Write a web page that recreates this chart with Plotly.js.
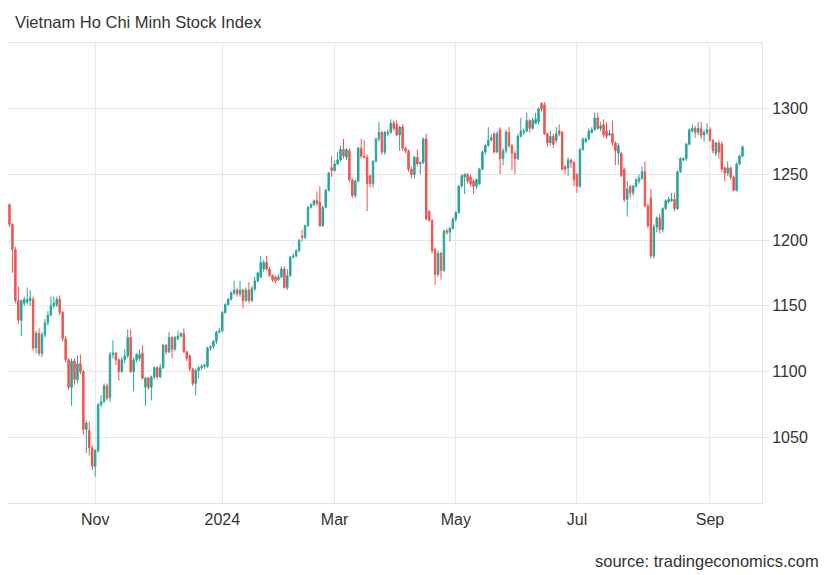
<!DOCTYPE html>
<html>
<head>
<meta charset="utf-8">
<script src="https://cdn.plot.ly/plotly-3.0.1.min.js"></script>
<style>html,body{margin:0;padding:0;background:#fff;}#chart{width:830px;height:575px;}</style>
</head>
<body>
<div id="chart"></div>
<script>
// Daily OHLC of the VN-Index, trading days Sep 2023 - Sep 2024
const openV = [
1227,1212,1193,1154,1139,1152,1153,1154,1155,1118,1129,1114,1128,1137,1143,1150,1151,1155,1145,1125,
1109,1088,1108,1094,1106,1100,1056,1055,1042,1028,1040,1075,1077,1089,1080,1113,1114,1109,1100,1109,
1112,1126,1100,1109,1110,1114,1088,1095,1088,1096,1103,1096,1103,1120,1115,1126,1117,1125,1127,1129,
1115,1112,1102,1091,1101,1103,1104,1104,1118,1119,1123,1130,1131,1145,1151,1155,1160,1162,1159,1162,
1154,1162,1154,1163,1169,1172,1178,1183,1178,1173,1172,1170,1172,1178,1164,1173,1187,1188,1192,1203,
1202,1211,1225,1227,1230,1229,1211,1225,1238,1255,1253,1258,1261,1269,1263,1268,1246,1234,1245,1270,
1264,1263,1249,1243,1260,1277,1282,1267,1281,1282,1289,1288,1280,1286,1270,1268,1254,1250,1263,1258,
1259,1277,1222,1215,1193,1174,1190,1177,1207,1206,1209,1216,1221,1241,1248,1250,1248,1245,1241,1243,
1254,1267,1272,1276,1281,1267,1284,1262,1268,1282,1272,1266,1262,1279,1282,1283,1291,1285,1289,1290,
1304,1303,1281,1274,1279,1276,1283,1282,1256,1255,1261,1259,1250,1241,1269,1275,1277,1282,1284,1293,
1285,1288,1283,1280,1281,1274,1266,1266,1254,1231,1241,1236,1241,1245,1247,1252,1226,1232,1188,1210,
1217,1208,1224,1229,1230,1231,1224,1252,1261,1262,1273,1283,1285,1282,1285,1280,1282,1284,1276,1266,
1274,1273,1255,1251,1255,1248,1238,1258,1264];
const highV = [
1228,1213,1195,1165,1155,1157,1164,1162,1157,1131,1133,1130,1140,1146,1157,1157,1157,1158,1146,1127,
1110,1110,1110,1112,1113,1101,1063,1062,1044,1041,1076,1082,1091,1091,1115,1124,1115,1110,1111,1117,
1132,1132,1111,1114,1117,1120,1096,1096,1097,1104,1104,1106,1121,1121,1130,1127,1127,1131,1130,1133,
1116,1113,1103,1102,1104,1106,1106,1119,1120,1124,1131,1133,1146,1152,1156,1161,1169,1164,1169,1163,
1164,1168,1165,1172,1176,1188,1185,1188,1180,1174,1173,1174,1180,1180,1178,1188,1190,1193,1201,1208,
1212,1226,1228,1231,1237,1241,1226,1239,1252,1264,1260,1267,1272,1277,1270,1270,1247,1246,1271,1277,
1276,1265,1250,1261,1278,1290,1283,1283,1284,1292,1291,1291,1287,1288,1271,1269,1256,1264,1269,1260,
1278,1281,1223,1216,1194,1192,1191,1208,1209,1210,1217,1222,1242,1250,1251,1251,1250,1246,1247,1255,
1268,1273,1286,1281,1282,1283,1286,1270,1284,1286,1273,1268,1281,1293,1285,1297,1292,1293,1297,1301,
1305,1305,1282,1283,1281,1286,1288,1283,1257,1263,1262,1260,1251,1270,1278,1278,1285,1286,1297,1297,
1290,1292,1290,1284,1291,1275,1274,1267,1255,1245,1242,1242,1247,1250,1256,1260,1228,1239,1212,1218,
1220,1225,1231,1233,1236,1236,1253,1263,1263,1274,1285,1288,1287,1290,1290,1284,1289,1286,1277,1275,
1276,1275,1256,1260,1256,1249,1259,1265,1272];
const lowV = [
1210,1175,1152,1136,1127,1150,1151,1150,1116,1114,1112,1111,1126,1135,1142,1148,1149,1143,1123,1107,
1086,1074,1090,1091,1098,1052,1038,1036,1025,1020,1038,1073,1076,1078,1077,1110,1105,1093,1099,1106,
1110,1099,1085,1107,1108,1094,1074,1086,1078,1094,1094,1095,1102,1113,1114,1110,1116,1124,1126,1114,
1108,1100,1089,1082,1095,1101,1102,1103,1116,1117,1121,1129,1130,1144,1150,1154,1158,1157,1157,1148,
1153,1152,1153,1161,1168,1171,1176,1177,1172,1168,1167,1169,1171,1163,1162,1172,1186,1187,1191,1199,
1201,1210,1224,1226,1226,1210,1210,1224,1237,1248,1252,1257,1260,1262,1261,1244,1232,1232,1244,1262,
1262,1222,1240,1240,1259,1275,1265,1265,1279,1281,1283,1279,1268,1268,1266,1252,1247,1247,1256,1250,
1258,1215,1214,1190,1166,1172,1170,1176,1204,1199,1208,1214,1220,1240,1235,1243,1241,1235,1239,1242,
1253,1265,1271,1275,1266,1266,1250,1257,1266,1270,1253,1250,1261,1278,1280,1282,1282,1284,1288,1288,
1298,1280,1271,1272,1270,1274,1279,1253,1250,1249,1255,1241,1236,1240,1268,1274,1276,1281,1283,1284,
1283,1278,1277,1279,1272,1257,1257,1248,1229,1218,1232,1234,1240,1243,1246,1225,1209,1186,1186,1206,
1205,1206,1223,1228,1229,1222,1223,1251,1260,1260,1272,1282,1278,1280,1277,1275,1280,1275,1266,1264,
1262,1252,1245,1249,1246,1237,1237,1257,1263];
const closeV = [
1212,1193,1154,1139,1154,1155,1155,1156,1118,1129,1114,1128,1137,1143,1150,1152,1155,1145,1125,1109,
1088,1108,1094,1106,1100,1056,1061,1042,1028,1040,1075,1077,1089,1080,1113,1114,1109,1100,1109,1112,
1126,1100,1109,1113,1113,1095,1095,1088,1096,1103,1096,1103,1120,1115,1126,1117,1126,1127,1129,1115,
1110,1102,1091,1101,1103,1104,1105,1118,1119,1123,1130,1131,1145,1151,1155,1160,1162,1159,1162,1154,
1162,1154,1163,1169,1175,1183,1183,1178,1173,1170,1169,1172,1178,1164,1173,1187,1188,1192,1200,1202,
1211,1225,1227,1230,1228,1211,1225,1238,1251,1253,1258,1261,1269,1264,1269,1246,1234,1245,1270,1264,
1263,1243,1243,1260,1277,1282,1267,1282,1282,1289,1285,1280,1286,1270,1268,1254,1250,1263,1258,1259,
1277,1216,1215,1192,1174,1190,1177,1207,1206,1209,1216,1221,1241,1249,1250,1245,1243,1241,1246,1254,
1267,1272,1276,1278,1267,1281,1262,1268,1282,1272,1266,1262,1279,1283,1283,1291,1285,1291,1292,1300,
1300,1281,1274,1279,1273,1281,1281,1254,1254,1261,1259,1246,1241,1269,1277,1277,1283,1284,1293,1285,
1287,1280,1279,1281,1274,1268,1272,1249,1231,1239,1236,1241,1246,1247,1252,1226,1211,1188,1210,1217,
1208,1224,1230,1231,1231,1224,1252,1262,1262,1273,1284,1285,1282,1285,1280,1282,1284,1276,1268,1274,
1267,1254,1251,1255,1248,1238,1258,1264,1271];
// month labels and the trading-day index where each falls
const tickText = ['Nov','2024','Mar','May','Jul','Sep'];
const tickIdx = [29,72,110,151,192,237];
const priceTicks = [1050,1100,1150,1200,1250,1300];

const dayIdx = closeV.map((_, i) => i);
const GREEN = '#26a69a', RED = '#ef5350';
const FONT = 'Arial, "Liberation Sans", sans-serif';

const trace = {
  type: 'candlestick',
  x: dayIdx, open: openV, high: highV, low: lowV, close: closeV,
  increasing: {line: {color: GREEN, width: 1}, fillcolor: GREEN},
  decreasing: {line: {color: RED, width: 1}, fillcolor: RED},
  whiskerwidth: 0,
  hoverinfo: 'skip'
};

const layout = {
  width: 830, height: 575,
  margin: {l: 8, r: 68, t: 43, b: 72},
  paper_bgcolor: '#fff', plot_bgcolor: '#fff',
  showlegend: false,
  font: {family: FONT, size: 16, color: '#333'},
  title: {text: 'Vietnam Ho Chi Minh Stock Index', font: {family: FONT, size: 16.5, color: '#333'},
          xref: 'container', yref: 'container', x: 15/830, xanchor: 'left', y: 1 - 22/575, yanchor: 'middle'},
  xaxis: {
    range: [-0.5, 254.6], rangeslider: {visible: false},
    tickmode: 'array', tickvals: tickIdx, ticktext: tickText,
    showgrid: true, gridcolor: '#e8e8e8', gridwidth: 1,
    showline: true, linecolor: '#e3e3e3', mirror: true,
    zeroline: false, ticks: '', ticklabelstandoff: 2, tickfont: {size: 16, color: '#333'}
  },
  yaxis: {
    side: 'right', range: [1000, 1350],
    tickmode: 'array', tickvals: priceTicks,
    showgrid: true, gridcolor: '#e8e8e8', gridwidth: 1,
    showline: true, linecolor: '#e3e3e3',
    zeroline: false, ticks: 'outside', ticklen: 6, tickcolor: '#e3e3e3',
    ticklabelstandoff: 0, tickfont: {size: 16, color: '#333'}
  },
  annotations: [{
    text: 'source: tradingeconomics.com', xref: 'paper', yref: 'paper',
    x: (821 - 8) / 754, y: (503 - 561) / 460, xanchor: 'right', yanchor: 'middle',
    showarrow: false, font: {family: FONT, size: 16.5, color: '#333'}
  }]
};

Plotly.newPlot('chart', [trace], layout, {displayModeBar: false, staticPlot: true});
</script>
</body>
</html>
